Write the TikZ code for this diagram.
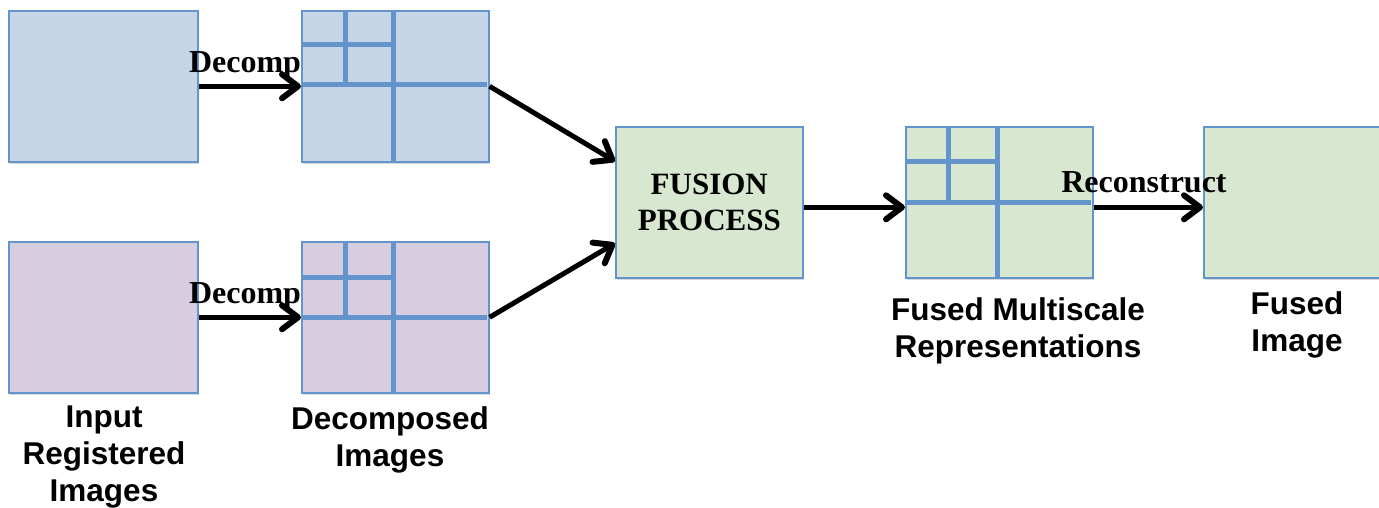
\documentclass[tikz,border=0pt]{standalone}
\usepackage{fontspec}
\setmainfont{Liberation Serif}
\setsansfont{Liberation Sans}
\usetikzlibrary{arrows.meta,shadows}

\definecolor{edgeblue}{RGB}{99,148,204}
\definecolor{fillblue}{RGB}{198,214,232}
\definecolor{fillpurple}{RGB}{215,205,225}
\definecolor{fillgreen}{RGB}{216,232,208}

\tikzset{
  imgbox/.style={draw=edgeblue, line width=1.6pt, rectangle, inner sep=0pt,
    minimum width=187pt, minimum height=151pt, anchor=north west,
    drop shadow={shadow xshift=1.5pt, shadow yshift=-2.5pt, opacity=0.3}},
  gridline/.style={draw=edgeblue, line width=5pt},
  flow/.style={line width=5pt, -{Straight Barb[length=16pt,width=24pt,line width=6pt,line cap=round,line join=round]}},
  steplabel/.style={font=\rmfamily\bfseries\fontsize{32}{38}\selectfont, inner sep=0pt},
  caption/.style={font=\sffamily\bfseries\fontsize{31.5}{37}\selectfont, align=center, inner sep=0pt, anchor=north},
}

\begin{document}
\begin{tikzpicture}[x=1pt, y=-1pt]
\useasboundingbox (0,0) rectangle (1379,508);

% input images
\node[imgbox, fill=fillblue, minimum width=189pt] (in1) at (8,10) {};
\node[imgbox, fill=fillpurple, minimum width=189pt] (in2) at (8,241) {};

% decomposed images with their pyramid grids
\node[imgbox, fill=fillblue] (dec1) at (301,10) {};
\node[imgbox, fill=fillpurple] (dec2) at (301,241) {};
\foreach \top/\bot/\mid/\small in {10/161/85/45, 241/392/317/277}{
  \draw[gridline] (393,\top) -- (393,\bot);
  \draw[gridline] (301,\mid) -- (487,\mid);
  \draw[gridline] (345,\top) -- (345,\mid);
  \draw[gridline] (301,\small) -- (393,\small);
}

% fusion stage
\node[imgbox, fill=fillgreen] (fus) at (615,126) {};
\node[font=\rmfamily\bfseries\fontsize{31}{36}\selectfont, align=center, inner sep=0pt] (fustext) at (fus.center) {FUSION\\PROCESS};

% fused multiscale representation
\node[imgbox, fill=fillgreen] (ms) at (905,126) {};
\draw[gridline] (997,126) -- (997,277);
\draw[gridline] (905,202) -- (1091,202);
\draw[gridline] (948,126) -- (948,202);
\draw[gridline] (905,162) -- (997,162);

% fused image (runs past the right edge)
\node[imgbox, fill=fillgreen] (fi) at (1203,126) {};

% connectors
\coordinate (fusin1) at ([yshift=41pt]fus.west);
\coordinate (fusin2) at ([yshift=-41pt]fus.west);
\draw[flow] (in1.east) -- (dec1.west);
\draw[flow] (in2.east) -- (dec2.west);
\draw[flow] (dec1.east) -- (fusin1);
\draw[flow] (dec2.east) -- (fusin2);
\draw[flow] ([yshift=-5pt]fus.east) -- ([yshift=-5pt]ms.west);
\draw[flow] ([yshift=-5pt]ms.east) -- ([yshift=-5pt]fi.west);

% step labels
\node[steplabel, anchor=base] (d1) at (245,73) {Decomp};
\node[steplabel, anchor=base] (d2) at (245,303) {Decomp};
\node[steplabel, anchor=base] (rc) at (1144,192) {Reconstruct};

% captions
\node[caption] (c1) at (104,406) {Input\\Registered\\Images};
\node[caption] (c2) at (390,406) {Decomposed\\Images};
\node[caption] (c3) at (1018,297) {Fused Multiscale\\Representations};
\node[caption] (c4) at (1297,291) {Fused\\Image};
\end{tikzpicture}
\end{document}
